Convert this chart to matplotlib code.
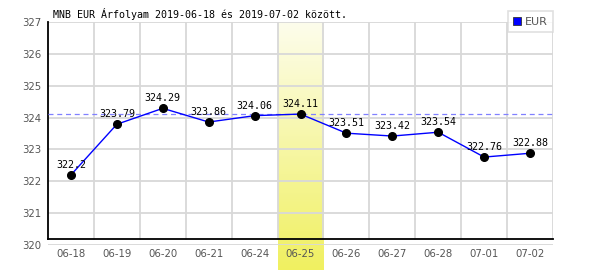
import matplotlib

matplotlib.use("Agg")
import matplotlib.pyplot as plt
import numpy as np
from matplotlib.lines import Line2D

dates = ["06-18", "06-19", "06-20", "06-21", "06-24", "06-25",
         "06-26", "06-27", "06-28", "07-01", "07-02"]
rates = [322.2, 323.79, 324.29, 323.86, 324.06, 324.11,
         323.51, 323.42, 323.54, 322.76, 322.88]
y_ticks = [320, 321, 322, 323, 324, 325, 326, 327]
highlight = 5  # 06-25
title = "MNB EUR Árfolyam 2019-06-18 és 2019-07-02 között."

GRID, TICK = "#d8d8d8", "#555555"
MONO = "DejaVu Sans Mono"

fig = plt.figure(figsize=(6, 2.7), dpi=100)
ax = fig.add_axes([48 / 600, 1 - 245 / 270, 505 / 600, 223 / 270])

x = np.arange(len(dates))
ax.set_xlim(-0.5, len(dates) - 0.5)
ax.set_ylim(y_ticks[0], y_ticks[-1])

# highlighted day: vertical gradient running below the axis to the figure edge
grad = np.linspace(0, 1, 256)[:, None]
top = np.array([253, 253, 236]) / 255
bot = np.array([240, 240, 96]) / 255
img = top + grad[..., None] * (bot - top)
ax.imshow(img, extent=(highlight - 0.5, highlight + 0.5, 319.22, 327),
          aspect="auto", origin="upper", clip_on=False, zorder=0)

# grid
for yv in y_ticks:
    ax.axhline(yv, color=GRID, lw=1.3, zorder=1)
for xv in x + 0.5:
    ax.plot([xv, xv], [320.2, 327], color=GRID, lw=1.3, zorder=1)

# frame: left and a bottom line sitting a bit above 320
for s in ax.spines.values():
    s.set_visible(False)
ax.plot([-0.5, -0.5], [320.2, 327], color="black", lw=1.3, zorder=2, clip_on=False)
ax.plot([-0.5, len(dates) - 0.5], [320.2, 320.2], color="black", lw=1.3, zorder=2,
        clip_on=False)

ax.axhline(rates[highlight], color="#8080ff", lw=0.9, ls=(0, (4, 3)), zorder=2)

ax.plot(x, rates, color="#0000ff", lw=1.0, zorder=3)
ax.plot(x, rates, "o", color="black", ms=5.5, zorder=4, clip_on=False)
for xi, v in zip(x, rates):
    ax.annotate(f"{v:g}", (xi, v), xytext=(0, 3.5), textcoords="offset points",
                ha="center", va="bottom", fontsize=7.2, family=MONO, zorder=5)

ax.set_xticks(x)
ax.set_xticklabels(dates)
ax.set_yticks(y_ticks)
ax.tick_params(length=0, labelsize=7.3, colors=TICK, pad=3)
ax.tick_params(axis="y", pad=5)

fig.text(53 / 600, 1 - 14 / 270, title, fontsize=7.2, family=MONO, va="center")

h = Line2D([], [], marker="s", ls="none", color="#0000ff", mec="#333333",
           mew=0.6, ms=5.5)
leg = fig.legend([h], ["EUR"], loc="upper right",
                 bbox_to_anchor=(553 / 600, 1 - 11 / 270), fontsize=8,
                 fancybox=False, edgecolor=GRID, handlelength=0.7,
                 handletextpad=0.3, borderpad=0.5, borderaxespad=0)
leg.get_frame().set_linewidth(1.2)
for t in leg.get_texts():
    t.set_color(TICK)

fig.savefig("out.png", dpi=100)
